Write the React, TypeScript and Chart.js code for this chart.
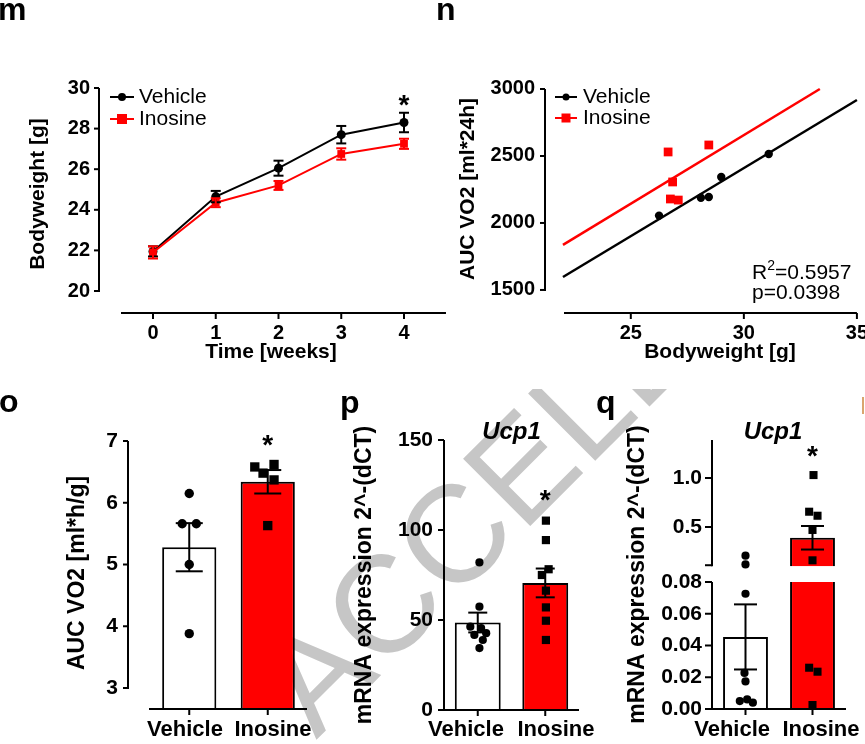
import React, { useEffect, useRef } from 'react';
import { Chart, registerables } from 'chart.js';

Chart.register(...registerables);

const FONT = '"Liberation Sans", Arial, Helvetica, sans-serif';
const BLACK = '#000000';
const RED = '#ff0000';
const WHITE = '#ffffff';

Chart.defaults.font.family = FONT;
Chart.defaults.color = BLACK;

// ---------------- Panel m : bodyweight over time ----------------
const weeks = [0, 1, 2, 3, 4];
const bodyweightTicks = [20, 22, 24, 26, 28, 30];
const vehicleBodyweight = [21.95, 24.65, 26.05, 27.7, 28.3];
const vehicleBodyweightSem = [0.25, 0.28, 0.37, 0.43, 0.48];
const inosineBodyweight = [21.9, 24.35, 25.2, 26.75, 27.25];
const inosineBodyweightSem = [0.3, 0.22, 0.22, 0.28, 0.25];

// ---------------- Panel n : AUC VO2 vs bodyweight ----------------
const aucTicks = [1500, 2000, 2500, 3000];
const bodyweightAxisTicks = [25, 30, 35];
const vehicleScatterBodyweight = [26.25, 28.1, 28.45, 29.0, 31.1];
const vehicleScatterAuc = [2055, 2188, 2194, 2343, 2515];
const inosineScatterBodyweight = [26.65, 26.85, 26.75, 27.1, 28.45];
const inosineScatterAuc = [2530, 2306, 2179, 2171, 2582];
const vehicleFitBodyweight = [22, 35];
const vehicleFitAuc = [1597, 2918];
const inosineFitBodyweight = [22, 33.36];
const inosineFitAuc = [1836, 3000];
const rSquaredText = '0.5957';
const pValueText = '0.0398';

// ---------------- Panels o, p, q ----------------
const groups = ['Vehicle', 'Inosine'];
const groupIndex = [0, 1];
const groupColors = [WHITE, RED];

// o: AUC VO2 per gram
const vo2Ticks = [3, 4, 5, 6, 7];
const vo2Mean = [5.28, 6.34];
const vo2Sem = [0.39, 0.19];
const vehicleVo2 = [6.15, 5.66, 5.66, 5.0, 3.88];
const vehicleVo2Jitter = [0, -0.09, 0.09, 0, 0];
const inosineVo2 = [6.58, 6.62, 6.48, 6.37, 5.63];
const inosineVo2Jitter = [-0.165, 0.08, -0.06, 0.08, 0];
const vo2LabelShift = [-0.054, 0.067];

// p: Ucp1
const ucp1Ticks = [0, 50, 100, 150];
const ucp1Mean = [48.6, 70.6];
const ucp1Sem = [5.5, 8];
const vehicleUcp1 = [82, 57.4, 46.3, 45.5, 42.7, 41.7, 38.9, 34.4];
const vehicleUcp1Jitter = [0.025, 0.025, -0.11, 0.05, 0.125, -0.05, 0.075, 0.025];
const inosineUcp1 = [105.2, 94.4, 78.2, 75, 66.3, 57, 49.6, 38.9];
const inosineUcp1Jitter = [0.01, 0.01, 0.05, -0.05, 0.01, 0.01, 0.01, 0.01];
const ucp1LabelShift = [-0.174, 0.159];

// q: Ucp1 (broken axis)
const batLowTicks = [0, 0.02, 0.04, 0.06, 0.08];
const batHighTicks = [0.5, 1.0];
const batMean = [0.0454, 0.39];
const batSem = [0.0205, 0.12];
const vehicleBat = [0.207, 0.118, 0.0726, 0.0227, 0.0174, 0.005, 0.006, 0.004];
const vehicleBatJitter = [0, 0, 0, -0.015, 0, -0.085, 0.025, 0.11];
const inosineBat = [1.03, 0.656, 0.615, 0.47, 0.16, 0.026, 0.0235, 0.0025];
const inosineBatJitter = [0.015, -0.05, 0.075, 0, 0, -0.05, 0.075, 0];
const batBreakLow = 0.08;
const batBreakHigh = 0.1;
const batLabelShift = [-0.2, 0.127];

// ---------------- helpers ----------------
type AxisDecor = { axis: string; from: number; to: number; offset: number; ticks: number[]; tickLen: number };
type ErrDecor = { xAxis?: string; yAxis?: string; x: number[]; mean: number[]; err: number[]; color: string; cap: number };
type LegendItem = { label: string; color: string; style: 'circle' | 'rect'; size: number };
type LegendDecor = { x: number; ys: number[]; lineLen: number; textX: number; font: string; items: LegendItem[] };
type Decor = {
  axes?: AxisDecor[];
  errors?: ErrDecor[];
  legend?: LegendDecor;
  extra?: (ctx: CanvasRenderingContext2D, chart: any) => void;
};

function makeDecor(d: Decor) {
  return {
    id: 'decor',
    afterDatasetsDraw(chart: any) {
      const ctx: CanvasRenderingContext2D = chart.ctx;
      const ca = chart.chartArea;
      const seg = (x0: number, y0: number, x1: number, y1: number, color: string, w: number) => {
        ctx.beginPath();
        ctx.strokeStyle = color;
        ctx.lineWidth = w;
        ctx.moveTo(x0, y0);
        ctx.lineTo(x1, y1);
        ctx.stroke();
      };
      ctx.save();
      ctx.lineCap = 'butt';
      (d.errors || []).forEach((eb) => {
        const xs = chart.scales[eb.xAxis || 'x'];
        const ys = chart.scales[eb.yAxis || 'y'];
        eb.x.forEach((xv, i) => {
          const x = xs.getPixelForValue(xv);
          const lo = ys.getPixelForValue(eb.mean[i] - eb.err[i]);
          const hi = ys.getPixelForValue(eb.mean[i] + eb.err[i]);
          seg(x, lo, x, hi, eb.color, 2);
          seg(x - eb.cap / 2, lo, x + eb.cap / 2, lo, eb.color, 2);
          seg(x - eb.cap / 2, hi, x + eb.cap / 2, hi, eb.color, 2);
        });
      });
      (d.axes || []).forEach((a) => {
        const s = chart.scales[a.axis];
        if (s.isHorizontal()) {
          const y = ca.bottom + a.offset;
          seg(s.getPixelForValue(a.from) - 1, y, s.getPixelForValue(a.to), y, BLACK, 2);
          a.ticks.forEach((t) => {
            const x = s.getPixelForValue(t);
            seg(x, y, x, y + a.tickLen, BLACK, 2);
          });
        } else {
          const x = ca.left - a.offset;
          seg(x, s.getPixelForValue(a.from) + 1, x, s.getPixelForValue(a.to), BLACK, 2);
          a.ticks.forEach((t) => {
            const y = s.getPixelForValue(t);
            seg(x - a.tickLen, y, x, y, BLACK, 2);
          });
        }
      });
      if (d.legend) {
        const L = d.legend;
        L.items.forEach((it, i) => {
          const y = L.ys[i];
          seg(L.x, y, L.x + L.lineLen, y, it.color, 2);
          const cx = L.x + L.lineLen / 2;
          ctx.fillStyle = it.color;
          if (it.style === 'circle') {
            ctx.beginPath();
            ctx.arc(cx, y, it.size, 0, Math.PI * 2);
            ctx.fill();
          } else {
            ctx.fillRect(cx - it.size, y - it.size, it.size * 2, it.size * 2);
          }
          ctx.fillStyle = BLACK;
          ctx.font = L.font;
          ctx.textAlign = 'left';
          ctx.textBaseline = 'middle';
          ctx.fillText(it.label, L.textX, y);
        });
      }
      if (d.extra) d.extra(ctx, chart);
      ctx.restore();
    },
  };
}

function drawStar(ctx: CanvasRenderingContext2D, chart: any, xv: number, yv: number, yAxis = 'y') {
  const x = chart.scales.x.getPixelForValue(xv);
  const y = chart.scales[yAxis].getPixelForValue(yv);
  ctx.font = `bold 28px ${FONT}`;
  ctx.fillStyle = BLACK;
  ctx.textAlign = 'center';
  ctx.textBaseline = 'alphabetic';
  ctx.fillText('*', x, y);
}

function drawGeneTitle(ctx: CanvasRenderingContext2D, chart: any, xv: number, text: string) {
  const x = chart.scales.x.getPixelForValue(xv);
  ctx.font = `italic bold 24px ${FONT}`;
  ctx.fillStyle = BLACK;
  ctx.textAlign = 'center';
  ctx.textBaseline = 'middle';
  ctx.fillText(text, x, chart.chartArea.top - 8);
}

function yScale(p: {
  width: number; min: number; max: number; ticks: number[]; pad: number; size: number;
  digits?: number; title?: string; titleSize?: number; titleCenter?: number; extra?: any;
}) {
  const titleSize = p.titleSize || 20;
  return {
    type: 'linear',
    position: 'left',
    min: p.min,
    max: p.max,
    offset: false,
    grid: { display: false, drawTicks: false },
    border: { display: false },
    ticks: {
      padding: p.pad,
      autoSkip: false,
      color: BLACK,
      font: { family: FONT, size: p.size, weight: 'bold' },
      callback: (v: any) => (p.digits ? Number(v).toFixed(p.digits) : String(v)),
    },
    afterBuildTicks: (s: any) => {
      s.ticks = p.ticks.map((v) => ({ value: v }));
    },
    afterFit: (s: any) => {
      s.width = p.width;
      s.paddingTop = 0;
      s.paddingBottom = 0;
      s.paddingLeft = 0;
      s.paddingRight = 0;
    },
    title: p.title
      ? {
          display: true,
          text: p.title,
          color: BLACK,
          font: { family: FONT, size: titleSize, weight: 'bold' },
          padding: { top: (p.titleCenter || 0) - titleSize * 0.6, bottom: 0 },
        }
      : { display: false },
    ...(p.extra || {}),
  };
}

function xScale(p: {
  height: number; min: number; max: number; ticks: number[]; labels?: string[]; pad: number; size: number;
  title?: string; titleSize?: number; titleBottom?: number;
}) {
  const titleSize = p.titleSize || 20;
  return {
    type: 'linear',
    position: 'bottom',
    min: p.min,
    max: p.max,
    offset: false,
    grid: { display: false, drawTicks: false },
    border: { display: false },
    ticks: {
      padding: p.pad,
      autoSkip: false,
      maxRotation: 0,
      minRotation: 0,
      color: BLACK,
      font: { family: FONT, size: p.size, weight: 'bold' },
      callback: (v: any, i: number) => (p.labels ? p.labels[i] : String(v)),
    },
    afterBuildTicks: (s: any) => {
      s.ticks = p.ticks.map((v) => ({ value: v }));
    },
    afterFit: (s: any) => {
      s.height = p.height;
      s.paddingTop = 0;
      s.paddingBottom = 0;
      s.paddingLeft = 0;
      s.paddingRight = 0;
    },
    title: p.title
      ? {
          display: true,
          text: p.title,
          color: BLACK,
          font: { family: FONT, size: titleSize, weight: 'bold' },
          padding: { top: 0, bottom: p.titleBottom || 0 },
        }
      : { display: false },
  };
}

function baseOptions(padding: any, scales: any) {
  return {
    responsive: false,
    maintainAspectRatio: false,
    animation: false,
    events: [],
    layout: { padding, autoPadding: false },
    plugins: { legend: { display: false }, tooltip: { enabled: false } },
    scales,
  };
}

const scatterPoints = (vals: number[], jitter: number[], gi: number) =>
  vals.map((v, i) => ({ x: gi + jitter[i], y: v }));

// ---------------- chart builders ----------------
function buildM() {
  return {
    type: 'line',
    data: {
      datasets: [
        {
          label: 'Inosine',
          data: weeks.map((w, i) => ({ x: w, y: inosineBodyweight[i] })),
          borderColor: RED, backgroundColor: RED, borderWidth: 2,
          pointStyle: 'rect', pointRadius: 5.5, pointBorderWidth: 0, tension: 0, clip: false,
        },
        {
          label: 'Vehicle',
          data: weeks.map((w, i) => ({ x: w, y: vehicleBodyweight[i] })),
          borderColor: BLACK, backgroundColor: BLACK, borderWidth: 2,
          pointStyle: 'circle', pointRadius: 4.5, pointBorderWidth: 0, tension: 0, clip: false,
        },
      ],
    },
    options: baseOptions({ top: 75, right: 26, left: 0, bottom: 0 }, {
      x: xScale({ height: 57, min: -0.494, max: 4.255, ticks: weeks, pad: 8, size: 20, title: 'Time [weeks]', titleSize: 21, titleBottom: 5 }),
      y: yScale({ width: 122, min: 18.916, max: 30.64, ticks: bodyweightTicks, pad: 32, size: 20, title: 'Bodyweight [g]', titleSize: 21, titleCenter: 38 }),
    }),
    plugins: [
      makeDecor({
        errors: [
          { x: weeks, mean: vehicleBodyweight, err: vehicleBodyweightSem, color: BLACK, cap: 10 },
          { x: weeks, mean: inosineBodyweight, err: inosineBodyweightSem, color: RED, cap: 10 },
        ],
        axes: [
          { axis: 'y', from: 20, to: 30, offset: 23, ticks: bodyweightTicks, tickLen: 5 },
          { axis: 'x', from: -0.494, to: 4.669, offset: 0, ticks: weeks, tickLen: 6 },
        ],
        legend: {
          x: 110, ys: [97, 119], lineLen: 24, textX: 139, font: `21px ${FONT}`,
          items: [
            { label: 'Vehicle', color: BLACK, style: 'circle', size: 4 },
            { label: 'Inosine', color: RED, style: 'rect', size: 5 },
          ],
        },
        extra: (ctx, chart) => drawStar(ctx, chart, 4, 28.72),
      }),
    ],
  };
}

function buildN() {
  return {
    type: 'scatter',
    data: {
      datasets: [
        {
          type: 'scatter',
          data: inosineScatterBodyweight.map((x, i) => ({ x, y: inosineScatterAuc[i] })),
          pointStyle: 'rect', pointRadius: 6.2, backgroundColor: RED, pointBorderWidth: 0, borderWidth: 0, clip: false,
        },
        {
          type: 'scatter',
          data: vehicleScatterBodyweight.map((x, i) => ({ x, y: vehicleScatterAuc[i] })),
          pointStyle: 'circle', pointRadius: 4.2, backgroundColor: BLACK, pointBorderWidth: 0, borderWidth: 0, clip: false,
        },
        {
          type: 'line',
          data: inosineFitBodyweight.map((x, i) => ({ x, y: inosineFitAuc[i] })),
          borderColor: RED, borderWidth: 2.5, pointRadius: 0, showLine: true, clip: false,
        },
        {
          type: 'line',
          data: vehicleFitBodyweight.map((x, i) => ({ x, y: vehicleFitAuc[i] })),
          borderColor: BLACK, borderWidth: 2.5, pointRadius: 0, showLine: true, clip: false,
        },
      ],
    },
    options: baseOptions({ top: 65, right: 0, left: 0, bottom: 0 }, {
      x: xScale({ height: 57, min: 22.09, max: 35.8, ticks: bodyweightAxisTicks, pad: 8, size: 20, title: 'Bodyweight [g]', titleSize: 21, titleBottom: 5 }),
      y: yScale({ width: 125, min: 1328, max: 3179, ticks: aucTicks, pad: 30, size: 20, title: 'AUC VO2 [ml*24h]', titleSize: 21, titleCenter: 28 }),
    }),
    plugins: [
      makeDecor({
        axes: [
          { axis: 'y', from: 1500, to: 3000, offset: 20, ticks: aucTicks, tickLen: 5 },
          { axis: 'x', from: 22.09, to: 35, offset: 0, ticks: bodyweightAxisTicks, tickLen: 6 },
        ],
        legend: {
          x: 115, ys: [97, 118], lineLen: 22, textX: 143, font: `21px ${FONT}`,
          items: [
            { label: 'Vehicle', color: BLACK, style: 'circle', size: 3.5 },
            { label: 'Inosine', color: RED, style: 'rect', size: 4.5 },
          ],
        },
        extra: (ctx) => {
          ctx.fillStyle = BLACK;
          ctx.textAlign = 'left';
          ctx.textBaseline = 'middle';
          let x = 312;
          ctx.font = `21px ${FONT}`;
          ctx.fillText('R', x, 273);
          x += ctx.measureText('R').width;
          ctx.font = `14px ${FONT}`;
          ctx.fillText('2', x, 266);
          x += ctx.measureText('2').width;
          ctx.font = `21px ${FONT}`;
          ctx.fillText('=' + rSquaredText, x, 273);
          ctx.fillText('p=' + pValueText, 312, 293);
        },
      }),
    ],
  };
}

function buildO() {
  return {
    type: 'bar',
    data: {
      datasets: [
        {
          type: 'scatter', data: scatterPoints(inosineVo2, inosineVo2Jitter, groupIndex[1]),
          pointStyle: 'rect', pointRadius: 6.6, backgroundColor: BLACK, pointBorderWidth: 0, borderWidth: 0, clip: false,
        },
        {
          type: 'scatter', data: scatterPoints(vehicleVo2, vehicleVo2Jitter, groupIndex[0]),
          pointStyle: 'circle', pointRadius: 4.7, backgroundColor: BLACK, pointBorderWidth: 0, borderWidth: 0, clip: false,
        },
        {
          type: 'bar', data: groupIndex.map((i) => ({ x: i, y: vo2Mean[i] })),
          backgroundColor: groupColors, borderColor: BLACK, borderWidth: 2, borderSkipped: 'start',
          barPercentage: 0.69, categoryPercentage: 1, grouped: false,
        },
      ],
    },
    options: baseOptions({ top: 67, right: 23, left: 0, bottom: 0 }, {
      x: xScale({ height: 35, min: -0.5, max: 1.5, ticks: groupIndex.map((i) => i + vo2LabelShift[i]), labels: groups, pad: 8, size: 22 }),
      y: yScale({ width: 150, min: 2.66, max: 7.065, ticks: vo2Ticks, pad: 32, size: 21, title: 'AUC VO2 [ml*h/g]', titleSize: 23, titleCenter: 78 }),
    }),
    plugins: [
      makeDecor({
        errors: [{ x: groupIndex, mean: vo2Mean, err: vo2Sem, color: BLACK, cap: 27 }],
        axes: [
          { axis: 'y', from: 3, to: 7, offset: 22, ticks: vo2Ticks, tickLen: 5 },
          { axis: 'x', from: -0.5, to: 1.5, offset: 0, ticks: groupIndex, tickLen: 6 },
        ],
        extra: (ctx, chart) => drawStar(ctx, chart, 1, 6.79),
      }),
    ],
  };
}

function buildP() {
  return {
    type: 'bar',
    data: {
      datasets: [
        {
          type: 'scatter', data: scatterPoints(inosineUcp1, inosineUcp1Jitter, groupIndex[1]),
          pointStyle: 'rect', pointRadius: 5.8, backgroundColor: BLACK, pointBorderWidth: 0, borderWidth: 0, clip: false,
        },
        {
          type: 'scatter', data: scatterPoints(vehicleUcp1, vehicleUcp1Jitter, groupIndex[0]),
          pointStyle: 'circle', pointRadius: 4.1, backgroundColor: BLACK, pointBorderWidth: 0, borderWidth: 0, clip: false,
        },
        {
          type: 'bar', data: groupIndex.map((i) => ({ x: i, y: ucp1Mean[i] })),
          backgroundColor: groupColors, borderColor: BLACK, borderWidth: 2, borderSkipped: 'start',
          barPercentage: 0.68, categoryPercentage: 1, grouped: false,
        },
      ],
    },
    options: baseOptions({ top: 70, right: 21, left: 0, bottom: 0 }, {
      x: xScale({ height: 34, min: -0.5, max: 1.5, ticks: groupIndex.map((i) => i + ucp1LabelShift[i]), labels: groups, pad: 7, size: 22 }),
      y: yScale({ width: 104, min: 0, max: 150, ticks: ucp1Ticks, pad: 11, size: 21, title: 'mRNA expression 2^-(dCT)', titleSize: 23, titleCenter: 25 }),
    }),
    plugins: [
      makeDecor({
        errors: [{ x: groupIndex, mean: ucp1Mean, err: ucp1Sem, color: BLACK, cap: 19 }],
        axes: [
          { axis: 'y', from: 0, to: 150, offset: 0, ticks: ucp1Ticks, tickLen: 6 },
          { axis: 'x', from: -0.5, to: 1.5, offset: 0, ticks: groupIndex, tickLen: 6 },
        ],
        extra: (ctx, chart) => {
          drawGeneTitle(ctx, chart, 0.5, 'Ucp1');
          drawStar(ctx, chart, 1, 111.7);
        },
      }),
    ],
  };
}

function buildQ() {
  const split = (vals: number[], jit: number[], gi: number) => {
    const hi: any[] = [];
    const lo: any[] = [];
    vals.forEach((v, i) => (v > batBreakLow ? hi : lo).push({ x: gi + jit[i], y: v }));
    return { hi, lo };
  };
  const veh = split(vehicleBat, vehicleBatJitter, groupIndex[0]);
  const ino = split(inosineBat, inosineBatJitter, groupIndex[1]);
  const upperGroups = groupIndex.filter((i) => batMean[i] > batBreakHigh);
  const pointStyleRect = { pointStyle: 'rect', pointRadius: 5.7, backgroundColor: BLACK, pointBorderWidth: 0, borderWidth: 0, clip: false };
  const pointStyleCircle = { pointStyle: 'circle', pointRadius: 4.1, backgroundColor: BLACK, pointBorderWidth: 0, borderWidth: 0, clip: false };
  const errAxis = (i: number) => (batMean[i] > batBreakLow ? 'yt' : 'yb');
  return {
    type: 'bar',
    data: {
      datasets: [
        { type: 'scatter', yAxisID: 'yt', data: ino.hi, ...pointStyleRect },
        { type: 'scatter', yAxisID: 'yb', data: ino.lo, ...pointStyleRect },
        { type: 'scatter', yAxisID: 'yt', data: veh.hi, ...pointStyleCircle },
        { type: 'scatter', yAxisID: 'yb', data: veh.lo, ...pointStyleCircle },
        {
          type: 'bar', yAxisID: 'yt',
          data: upperGroups.map((i) => ({ x: i, y: [batBreakHigh, batMean[i]] })),
          backgroundColor: upperGroups.map((i) => groupColors[i]), borderColor: BLACK, borderWidth: 2, borderSkipped: 'start',
          barPercentage: 0.67, categoryPercentage: 1, grouped: false,
        },
        {
          type: 'bar', yAxisID: 'yb',
          data: groupIndex.map((i) => ({ x: i, y: [0, Math.min(batMean[i], batBreakLow)] })),
          backgroundColor: groupColors, borderColor: BLACK, borderSkipped: 'start',
          borderWidth: (c: any) =>
            c.dataIndex !== undefined && batMean[c.dataIndex] > batBreakLow ? { top: 0, right: 2, bottom: 0, left: 2 } : 2,
          barPercentage: 0.67, categoryPercentage: 1, grouped: false,
        },
      ],
    },
    options: baseOptions({ top: 70, right: 19, left: 0, bottom: 0 }, {
      x: xScale({ height: 35, min: -0.5, max: 1.5, ticks: groupIndex.map((i) => i + batLabelShift[i]), labels: groups, pad: 8, size: 22 }),
      yTitle: {
        type: 'linear', position: 'left', weight: 10,
        grid: { display: false, drawTicks: false }, border: { display: false },
        ticks: { display: false },
        title: {
          display: true, text: 'mRNA expression 2^-(dCT)', color: BLACK,
          font: { family: FONT, size: 23, weight: 'bold' }, padding: { top: 38 - 13.8, bottom: 0 },
        },
        afterFit: (s: any) => {
          s.width = 60;
          s.paddingTop = 0;
          s.paddingBottom = 0;
          s.paddingLeft = 0;
          s.paddingRight = 0;
        },
      },
      yb: yScale({ width: 52, min: 0, max: 0.08472, ticks: batLowTicks, pad: 10, size: 21, digits: 2, extra: { stack: 'bat', stackWeight: 1, weight: 1 } }),
      yt: yScale({ width: 52, min: 0.0153, max: 1.3878, ticks: batHighTicks, pad: 10, size: 21, digits: 1, extra: { stack: 'bat', stackWeight: 1, weight: 2 } }),
    }),
    plugins: [
      makeDecor({
        errors: groupIndex.map((i) => ({ yAxis: errAxis(i), x: [i], mean: [batMean[i]], err: [batSem[i]], color: BLACK, cap: 23 })),
        axes: [
          { axis: 'yt', from: 0.11, to: 1.3878, offset: 0, ticks: [0.11, ...batHighTicks], tickLen: 7 },
          { axis: 'yb', from: 0, to: 0.08, offset: 0, ticks: batLowTicks, tickLen: 7 },
          { axis: 'x', from: -0.5, to: 1.5, offset: 0, ticks: groupIndex, tickLen: 6 },
        ],
        extra: (ctx, chart) => {
          drawGeneTitle(ctx, chart, 0.41, 'Ucp1');
          drawStar(ctx, chart, 1, 1.133, 'yt');
        },
      }),
    ],
  };
}

// ---------------- components ----------------
function ChartCanvas({ left, top, width, height, build }: { left: number; top: number; width: number; height: number; build: () => any }) {
  const ref = useRef<HTMLCanvasElement | null>(null);
  useEffect(() => {
    if (!ref.current) return;
    const chart = new Chart(ref.current, build());
    return () => chart.destroy();
  }, [build]);
  return (
    <canvas
      ref={ref}
      width={width}
      height={height}
      style={{ position: 'absolute', left, top, width, height, display: 'block' }}
    />
  );
}

const panelLetters = [
  { t: 'm', left: -2, baseline: 20 },
  { t: 'n', left: 436, baseline: 20 },
  { t: 'o', left: -1, baseline: 412 },
  { t: 'p', left: 340, baseline: 413 },
  { t: 'q', left: 596, baseline: 413 },
];

export default function App() {
  return (
    <div
      style={{
        position: 'fixed', left: 0, top: 0, width: 865, height: 744,
        background: '#ffffff', overflow: 'hidden', fontFamily: FONT,
      }}
    >
      <div style={{ position: 'absolute', left: 0, top: 389, width: 865, height: 355, overflow: 'hidden' }}>
        <div
          style={{
            position: 'absolute', left: 316, top: 234.2, fontFamily: FONT, fontSize: 138,
            lineHeight: '138px', color: '#c6c6c6', whiteSpace: 'nowrap',
            transform: 'rotate(-45deg)', transformOrigin: '0px 116.8px',
          }}
        >
          ACCELERATED ARTICLE PREVIEW
        </div>
      </div>
      <div style={{ position: 'absolute', left: 862, top: 397, width: 2, height: 17, background: '#d9a56e' }} />
      <ChartCanvas left={0} top={0} width={446} height={370} build={buildM} />
      <ChartCanvas left={440} top={0} width={435} height={370} build={buildN} />
      <ChartCanvas left={0} top={370} width={330} height={374} build={buildO} />
      <ChartCanvas left={340} top={370} width={260} height={374} build={buildP} />
      <ChartCanvas left={600} top={370} width={265} height={374} build={buildQ} />
      {panelLetters.map((l) => (
        <div
          key={l.t}
          style={{
            position: 'absolute', left: l.left, top: l.baseline - 27, fontSize: 32,
            lineHeight: '32px', fontWeight: 'bold', fontFamily: FONT, color: BLACK,
          }}
        >
          {l.t}
        </div>
      ))}
    </div>
  );
}
